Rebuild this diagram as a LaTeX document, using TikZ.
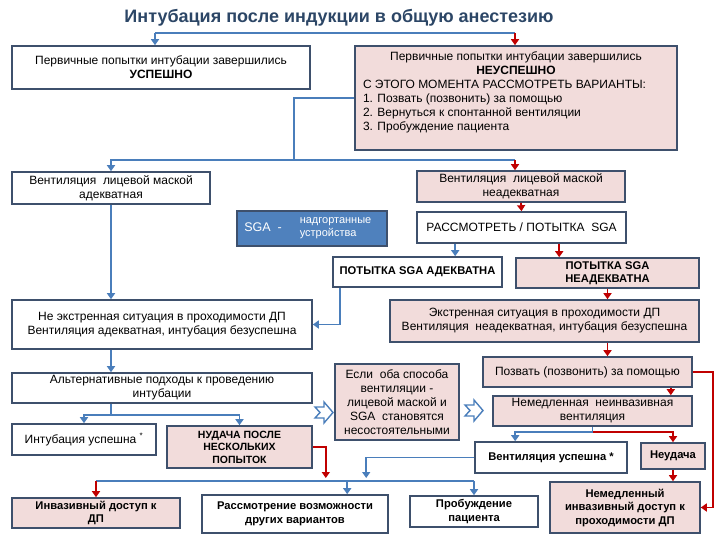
\documentclass[tikz,border=0pt]{standalone}
\usepackage{fontspec}
\setmainfont{Liberation Sans}
\usetikzlibrary{arrows.meta,calc}
\definecolor{edgeblue}{RGB}{74,126,187}
\definecolor{edgered}{RGB}{192,0,0}
\definecolor{boxline}{RGB}{62,80,108}
\definecolor{boxpink}{RGB}{242,220,219}
\definecolor{sgablue}{RGB}{79,129,189}
\definecolor{titleblue}{RGB}{44,70,102}
\begin{document}
\begin{tikzpicture}[x=1pt,y=-1pt,
    box/.style={draw=boxline,line width=1.6pt,fill=white,align=center,inner sep=1pt,
        font=\fontsize{12}{14}\selectfont},
    pbox/.style={box,fill=boxpink},
    strong/.style={font=\fontsize{11.2}{13.5}\selectfont\bfseries},
    bl/.style={edgeblue,line width=1.8pt},
    ba/.style={bl,-{Triangle[length=6pt,width=8pt]}},
    rl/.style={edgered,line width=1.8pt},
    ra/.style={rl,-{Triangle[length=6pt,width=8pt]}},
    chev/.pic={\draw[draw=edgeblue,line width=1.4pt,fill=white]
        (0,5)--(9,5)--(9,0)--(18,10.5)--(9,21)--(9,16)--(0,16)--(5,10.5)--cycle;}]
\useasboundingbox (0,0) rectangle (720,540);
\node[font=\fontsize{18}{21}\selectfont\bfseries,text=titleblue] (title) at (339,18)
    {Интубация после индукции в общую анестезию};
% first attempt
\node[box,minimum width=298,minimum height=43] (succ) at (161,67.5)
    {Первичные попытки интубации завершились\\\textbf{УСПЕШНО}};
\node[pbox,minimum width=322,minimum height=104] (fail) at (516,98)
    {\begin{minipage}{306pt}\centering Первичные попытки интубации завершились\\
    \textbf{НЕУСПЕШНО}\par\raggedright С ЭТОГО МОМЕНТА РАССМОТРЕТЬ ВАРИАНТЫ:\\
    1. Позвать (позвонить) за помощью\\ 2. Вернуться к спонтанной вентиляции\\
    3. Пробуждение пациента\par\vspace*{12pt}\end{minipage}};
% mask and SGA
\node[box,minimum width=198,minimum height=32] (maskok) at (111,188)
    {Вентиляция\ \ лицевой маской\\адекватная};
\node[pbox,minimum width=208,minimum height=31] (masknot) at (521,186.5)
    {Вентиляция\ \ лицевой маской\\неадекватная};
\node[box,minimum width=209,minimum height=31] (sgatry) at (521.5,227.5)
    {РАССМОТРЕТЬ / ПОТЫТКА\ \ SGA};
\node[draw=boxline,line width=1.6pt,fill=sgablue,text=white,inner sep=1pt,
    minimum width=150,minimum height=35] (sga) at (312,228.5)
    {{\fontsize{12.5}{14}\selectfont SGA\ \ -}\hspace{18pt}%
    \parbox{80pt}{\fontsize{11}{13}\selectfont надгортанные\\устройства}};
\node[box,strong,minimum width=169,minimum height=30] (sgaok) at (417.5,272)
    {ПОТЫТКА SGA АДЕКВАТНА};
\node[pbox,strong,minimum width=183,minimum height=30] (sganot) at (607.5,273)
    {ПОТЫТКА SGA\\НЕАДЕКВАТНА};
\node[pbox,minimum width=309,minimum height=42] (emerg) at (544.5,321)
    {Экстренная ситуация в проходимости ДП\\Вентиляция\ \ неадекватная, интубация безуспешна};
\node[box,minimum width=300,minimum height=49] (nonemerg) at (162,324.5)
    {Не экстренная ситуация в проходимости ДП\\Вентиляция адекватная, интубация безуспешна};
% non-emergency path
\node[box,minimum width=300,minimum height=30] (alt) at (162,388)
    {Альтернативные подходы к проведению\\интубации};
\node[box,minimum width=144,minimum height=31] (intok) at (84,439.5)
    {Интубация успешна \textsuperscript{*}};
\node[pbox,font=\fontsize{10.5}{12.5}\selectfont\bfseries,minimum width=145,minimum height=42]
    (fewfail) at (239.5,447) {НУДАЧА ПОСЛЕ\\НЕСКОЛЬКИХ\\ПОПЫТОК};
\node[pbox,minimum width=124,minimum height=76] (both) at (397,402)
    {Если\ \ оба способа\\вентиляции -\\лицевой маской и\\SGA\ \ становятся\\несостоятельными};
% emergency path
\node[pbox,minimum width=209,minimum height=30] (help) at (587.5,372)
    {Позвать (позвонить) за помощью};
\node[pbox,minimum width=199,minimum height=30] (noninv) at (592.5,411)
    {Немедленная\ \ неинвазивная\\вентиляция};
\node[box,strong,minimum width=152,minimum height=31] (ventok) at (551,457.5)
    {Вентиляция успешна *};
\node[pbox,strong,minimum width=64,minimum height=26] (ventfail) at (673,456) {Неудача};
\node[pbox,strong,minimum width=150,minimum height=51] (invnow) at (625,507.5)
    {Немедленный\\инвазивный доступ к\\проходимости ДП};
% bottom row
\node[box,strong,minimum width=186,minimum height=38] (other) at (295,514)
    {Рассмотрение возможности\\других вариантов};
\node[pbox,strong,minimum width=168,minimum height=30] (invdp) at (96,513)
    {Инвазивный доступ к\\ДП};
\node[box,strong,minimum width=128,minimum height=31] (wake) at (474,511.5)
    {Пробуждение\\пациента};
\pic at (315,402) {chev};
\pic at (465,400) {chev};
% connectors
\coordinate (tl) at (155,33);
\coordinate (tr) at (515,33);
\draw[bl] (tl) -- (tr);
\draw[ba] (tl) -- (tl |- succ.north);
\draw[ra] (tr) -- (tr |- fail.north);
\coordinate (fk) at (294,160);
\draw[bl] (fail.west) -| (fk);
\draw[ba] (fk) -| (maskok.north);
\draw[bl] (fk) -- (fk -| tr);
\draw[ra] (fk -| tr) -- (tr |- masknot.north);
\draw[ra] (masknot.south) -- (sgatry.north);
\coordinate (s1) at ($(sgatry.south west)+(39,0)$);
\coordinate (s2) at ($(sgatry.south west)+(143,0)$);
\draw[ba] (s1) -- (s1 |- sgaok.north);
\draw[ra] (s2) -- (s2 |- sganot.north);
\draw[ra] (sganot.south) -- (sganot.south |- emerg.north);
\coordinate (s3) at ($(sgaok.south west)+(8,0)$);
\draw[ba] (s3) |- (nonemerg.east);
\draw[ba] (maskok.south) -- (maskok.south |- nonemerg.north);
\draw[ba] (maskok.south |- nonemerg.south) -- (maskok.south |- alt.north);
\coordinate (ak) at ($(maskok.south |- alt.south)+(0,11)$);
\draw[bl] (maskok.south |- alt.south) -- (ak);
\draw[ba] (ak) -| (intok.north);
\draw[ba] (ak) -| (fewfail.north);
\draw[ra] (sganot.south |- emerg.south) -- (sganot.south |- help.north);
\coordinate (s4) at ($(help.south east)+(-22,0)$);
\draw[ra] (s4) -- (s4 |- noninv.north);
\draw[ra] (help.east) -- ++(20,0) |- (invnow.east);
\coordinate (nk) at ($(noninv.south)+(0,5)$);
\coordinate (s5) at ($(ventok.north west)+(41,0)$);
\draw[bl] (noninv.south) -- (nk);
\draw[ba] (nk) -| (s5);
\draw[ra] (nk) -| (ventfail.north);
\draw[ra] (ventfail.south) -- (ventfail.south |- invnow.north);
\coordinate (bk) at ($(invdp.north)+(0,-16)$);
\coordinate (s6) at ($(other.north west)+(146,0)$);
\draw[bl] (bk) -- (bk -| wake.north);
\draw[ra] (bk) -- (invdp.north);
\draw[ba] (s6 |- bk) -- (s6);
\draw[ba] (bk -| wake.north) -- (wake.north);
\draw[ra] (fewfail.east) -- ++(13,0) -- ++(0,31);
\draw[ba] (ventok.west) -- ++(-108,0) -- ++(0,20.5);
\end{tikzpicture}
\end{document}
